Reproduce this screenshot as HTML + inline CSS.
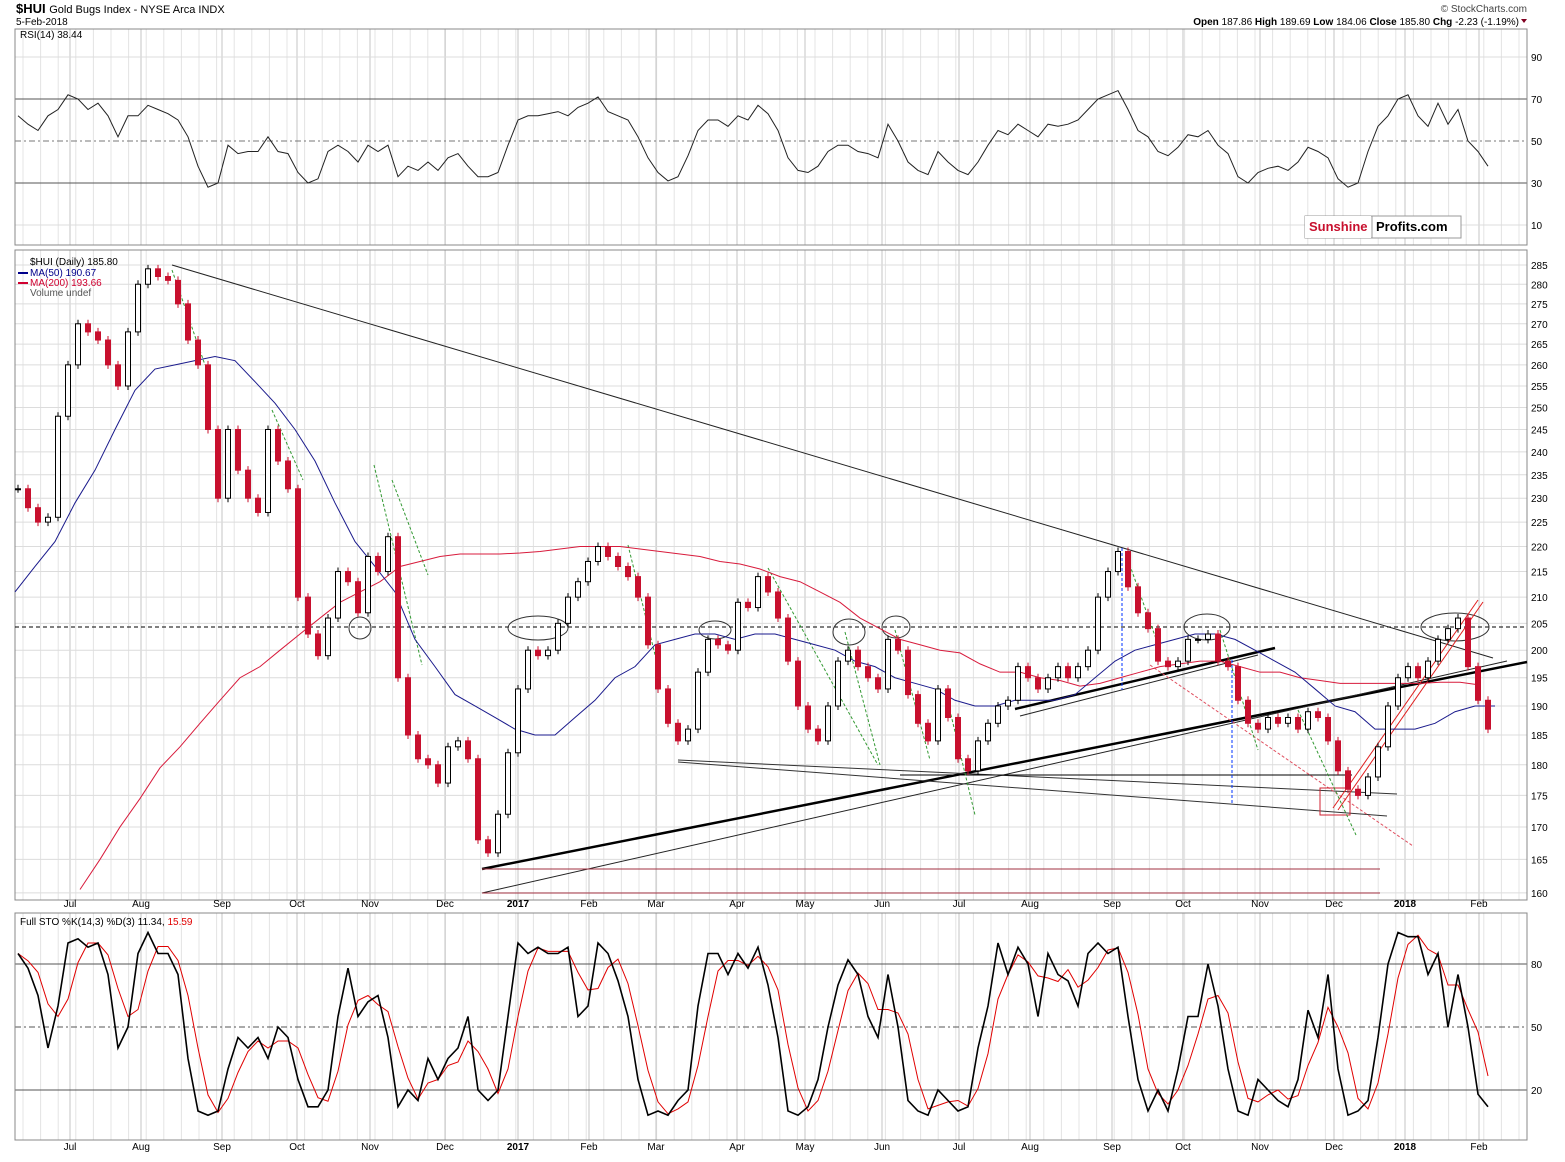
<!DOCTYPE html>
<html><head><meta charset="utf-8">
<style>
body{margin:0;background:#fff;font-family:"Liberation Sans",sans-serif;}
svg text{font-family:"Liberation Sans",sans-serif;}
</style></head>
<body>
<svg id="chart" width="1565" height="1157" viewBox="0 0 1565 1157" xmlns="http://www.w3.org/2000/svg">
<rect width="1565" height="1157" fill="#fff"/>
<g id="grid"></g>
<text x="16" y="13" font-size="13" font-weight="bold">$HUI <tspan font-size="11" font-weight="normal">Gold Bugs Index - NYSE Arca INDX</tspan></text>
<text x="16" y="25" font-size="10">5-Feb-2018</text>
<text x="1527" y="12" font-size="10" text-anchor="end" fill="#444">© StockCharts.com</text>
<text x="1519" y="25" font-size="10" text-anchor="end"><tspan font-weight="bold">Open</tspan> 187.86 <tspan font-weight="bold">High</tspan> 189.69 <tspan font-weight="bold">Low</tspan> 184.06 <tspan font-weight="bold">Close</tspan> 185.80 <tspan font-weight="bold">Chg</tspan> -2.23 (-1.19%)</text>
<path d="M1521,19 l6,0 l-3,4z" fill="#800020"/>
<text x="20" y="38" font-size="10">RSI(14) 38.44</text>
<g font-size="10">
<text x="30" y="265">$HUI (Daily) 185.80</text>
<text x="30" y="276" fill="#00008b">MA(50) 190.67</text>
<text x="30" y="286" fill="#d00030">MA(200) 193.66</text>
<text x="30" y="296" fill="#555">Volume undef</text>
<line x1="18" y1="273" x2="28" y2="273" stroke="#00008b" stroke-width="2"/>
<line x1="18" y1="283" x2="28" y2="283" stroke="#d00030" stroke-width="2"/>
</g>
<text x="20" y="925" font-size="10">Full STO %K(14,3) %D(3) 11.34, <tspan fill="#e00000">15.59</tspan></text>
<g>
<rect x="1305" y="216" width="156" height="22" fill="#fff" stroke="#999"/>
<rect x="1305" y="216" width="66" height="22" fill="#fff"/>
<line x1="1372" y1="216" x2="1372" y2="238" stroke="#999"/>
<text x="1309" y="231" font-size="13" font-weight="bold" fill="#c8102e">Sunshine</text>
<text x="1376" y="231" font-size="13" font-weight="bold" fill="#000">Profits.com</text>
</g>
<g id="annot" fill="none">
<line x1="172" y1="265" x2="1493" y2="658" stroke="#222" stroke-width="1"/>
<line x1="15" y1="627" x2="1527" y2="627" stroke="#000" stroke-dasharray="4,3"/>
<line x1="482" y1="869" x2="1527" y2="662" stroke="#000" stroke-width="2.5"/>
<line x1="482" y1="893" x2="1507" y2="661" stroke="#222" stroke-width="1"/>
<line x1="1015" y1="709" x2="1275" y2="648" stroke="#000" stroke-width="2.5"/>
<line x1="1020" y1="716" x2="1258" y2="655" stroke="#222"/>
<line x1="678" y1="760" x2="1397" y2="794" stroke="#333"/>
<line x1="678" y1="762" x2="1387" y2="816" stroke="#333"/>
<line x1="900" y1="775" x2="1352" y2="775" stroke="#000"/>
<line x1="482" y1="869" x2="1380" y2="869" stroke="#a03040"/>
<line x1="482" y1="893" x2="1380" y2="893" stroke="#a03040"/>
<ellipse cx="538" cy="628" rx="30" ry="12" stroke="#333"/>
<ellipse cx="715" cy="630" rx="16" ry="9" stroke="#333"/>
<ellipse cx="849" cy="632" rx="16" ry="13" stroke="#333"/>
<ellipse cx="896" cy="627" rx="14" ry="11" stroke="#333"/>
<ellipse cx="1207" cy="627" rx="23" ry="13" stroke="#333"/>
<ellipse cx="1455" cy="627" rx="34" ry="14" stroke="#333"/>
<ellipse cx="360" cy="628" rx="11" ry="11" stroke="#333"/>
<line x1="1122" y1="548" x2="1122" y2="690" stroke="#0033ff" stroke-dasharray="3,2"/>
<line x1="1232" y1="660" x2="1232" y2="804" stroke="#0033ff" stroke-dasharray="3,2"/>
<line x1="1150" y1="665" x2="1413" y2="846" stroke="#e05060" stroke-dasharray="3,2"/>
<rect x="1320" y="788" width="30" height="27" stroke="#d02030"/>
<line x1="1333" y1="808" x2="1478" y2="600" stroke="#e02020"/>
<line x1="1338" y1="810" x2="1483" y2="602" stroke="#e02020"/>
<g stroke="#339933" stroke-dasharray="3,2">
<line x1="172" y1="270" x2="205" y2="365"/><line x1="272" y1="410" x2="303" y2="480"/>
<line x1="374" y1="465" x2="422" y2="665"/><line x1="392" y1="480" x2="428" y2="575"/>
<line x1="628" y1="545" x2="660" y2="675"/><line x1="768" y1="568" x2="878" y2="765"/>
<line x1="845" y1="632" x2="880" y2="765"/><line x1="895" y1="630" x2="930" y2="760"/>
<line x1="945" y1="690" x2="975" y2="815"/><line x1="1128" y1="560" x2="1160" y2="650"/>
<line x1="1220" y1="630" x2="1258" y2="750"/><line x1="1298" y1="710" x2="1356" y2="835"/>
</g>
</g>
<g id="plots"></g>
</svg>
<script>
// ---- data ----
const priceClose=[232,228,225,226,248,260,270,268,266,260,255,268,280,284,282,281,275,266,260,245,230,245,236,230,227,245,238,232,210,203,199,206,215,213,207,218,215,222,195,185,181,180,177,183,184,181,168,166,172,182,193,200,199,200,205,210,213,217,220,218,216,214,210,201,193,187,184,186,196,202,201,200,209,208,214,211,206,198,190,186,184,190,198,200,197,195,193,202,200,192,187,184,193,188,181,179,184,187,190,191,197,195,193,195,197,195,197,200,210,215,219,212,207,204,198,197,198,202,202,203,198,197,191,187,186,188,187,188,186,189,188,184,179,176,175,178,183,190,195,197,195,198,202,204,206,197,191,186];
const ma50=[211,216,221,229,236,245,254,259,260,261,262,261,256,251,245,238,229,221,216,211,202,197,192,190,188,186,185,185,188,191,195,197,201,202,203,203,202,203,203,202,201,200,198,197,195,194,193,191,190,190,191,191,191,192,195,198,200,201,202,203,203,202,200,198,196,193,190,189,186,186,186,187,189,190,190];
const ma200=[160.5,165,170,174.5,179.5,183,187,191,195,197,200,203,206,209,211,213,216,217,218,218.5,218.5,218.5,218.7,219,219.5,220,220,220,219.5,219,218.5,218,217,216.5,215.5,214,213,211,209,206,204,202,201,200,199.5,197.5,196,196,195,194.5,193.5,194,195,196,197,197.5,198,198,197,196,196,195,194.5,194,194,194,194,194,194.2,194.2,193.7];
const rsiVals=[62,58,55,62,65,72,70,65,68,62,52,62,62,67,65,63,60,52,38,28,30,48,44,45,45,52,45,44,35,30,32,45,48,45,40,48,45,48,33,38,36,40,36,42,44,38,33,33,35,48,60,62,62,63,64,62,66,68,71,64,62,60,52,42,35,31,33,43,55,60,60,57,62,60,67,63,55,42,36,35,38,45,48,48,45,44,42,58,50,40,36,34,45,40,36,34,40,48,55,53,58,55,52,58,57,58,60,65,70,72,74,65,55,52,45,43,47,53,52,55,48,44,33,30,35,37,38,36,40,47,45,42,32,28,30,45,57,62,70,72,62,57,68,58,65,50,45,38];
const stoK=[85,78,65,40,60,90,92,88,90,75,40,50,85,95,85,85,75,35,10,8,10,30,45,40,45,35,50,45,25,12,12,20,55,78,55,62,65,45,12,20,15,35,25,35,40,55,20,15,20,55,90,85,88,85,85,88,55,60,90,85,72,55,25,8,10,8,15,20,60,85,85,75,85,78,88,70,45,10,8,12,25,50,70,82,75,55,45,75,50,15,10,8,20,15,10,12,40,60,90,75,88,80,55,85,75,72,60,85,90,85,88,55,25,10,20,10,30,55,55,80,60,30,10,8,25,20,15,12,25,58,45,75,30,8,10,15,45,80,95,93,93,75,85,50,75,50,18,12];
const priceTicks=[285,280,275,270,265,260,255,250,245,240,235,230,225,220,215,210,205,200,195,190,185,180,175,170,165,160];
const rsiTicks=[90,70,50,30,10];
const stoTicks=[80,50,20];
const monthLabels=["Jul","Aug","Sep","Oct","Nov","Dec","2017","Feb","Mar","Apr","May","Jun","Jul","Aug","Sep","Oct","Nov","Dec","2018","Feb"];
const monthPos=[70,141,222,297,370,445,518,589,656,737,805,882,959,1030,1112,1183,1260,1334,1405,1479];

// ---- scales ----
const L=15,R=1527;
const xDay=i=>18+10*i;
const xMA50=i=>15+20*i;
const xMA200=i=>80+20*i;
const yP=v=>265+1087.6*Math.log(285/v);
const yR=v=>141-(v-50)*2.1;
const yS=v=>1027-(v-50)*2.1;
const NS="http://www.w3.org/2000/svg";
const grid=document.getElementById('grid'), plots=document.getElementById('plots');
function mk(tag,attrs,parent){const e=document.createElementNS(NS,tag);for(const k in attrs)e.setAttribute(k,attrs[k]);parent.appendChild(e);return e;}

// panels
const panels=[[29,245],[250,900],[913,1140]];
panels.forEach(([t,b])=>{
  for(let x=L+8;x<R;x+=17.6){const l=mk('line',{x1:x,y1:t,x2:x,y2:b,stroke:'#e4e4e4'},grid);
    
    }
  monthPos.forEach(x=>{const l=mk('line',{x1:x,y1:t,x2:x,y2:b,stroke:'#c4c4c4'},grid);
    
    });
});
function hTicks(ticks,yf,t,b,lineStyle){
  ticks.forEach(v=>{const y=yf(v);
    const l=mk('line',{x1:L,y1:y,x2:R,y2:y,stroke:lineStyle?lineStyle[0]:'#dcdcdc','stroke-dasharray':lineStyle?lineStyle[1]:''},grid);
    
    
    const tx=mk('text',{x:R+4,y:y+4,'font-size':10},grid);tx.textContent=v;
    
    
  });
}
hTicks(priceTicks,yP);
rsiTicks.forEach(v=>{const y=yR(v);const st=(v==70||v==30)?'#555':(v==50?'#777':'#dcdcdc');
  const l=mk('line',{x1:L,y1:y,x2:R,y2:y,stroke:st,'stroke-dasharray':v==50?'6,3,2,3':''},grid);
  
  
  const tx=mk('text',{x:R+4,y:y+4,'font-size':10},grid);tx.textContent=v;
  
  });
stoTicks.forEach(v=>{const y=yS(v);
  const l=mk('line',{x1:L,y1:y,x2:R,y2:y,stroke:'#555','stroke-dasharray':v==50?'6,3,2,3':''},grid);
  
  
  const tx=mk('text',{x:R+4,y:y+4,'font-size':10},grid);tx.textContent=v;
  
  });
panels.forEach(([t,b])=>{const r=mk('rect',{x:L,y:t,width:R-L,height:b-t,fill:'none',stroke:'#888'},grid);
  
  });
[907,1150].forEach(y=>monthLabels.forEach((m,i)=>{
  const tx=mk('text',{x:monthPos[i],y:y,'font-size':10,'text-anchor':'middle','font-weight':(m.length==4?'bold':'normal')},grid);tx.textContent=m;
  
  }));

// MAs
function poly(arr,xf,yf,color,w,name){
  const p=mk('polyline',{points:arr.map((v,i)=>xf(i)+','+yf(v)).join(' '),fill:'none',stroke:color,'stroke-width':w},plots);
  
  }
poly(ma200,xMA200,yP,'#d81b3c',1,'ma200-line');
poly(ma50,xMA50,yP,'#1a1a8c',1,'ma50-line');
// candles
priceClose.forEach((c,i)=>{
  const prev=i?priceClose[i-1]:c; const up=c>=prev;
  const y1=yP(Math.max(c,prev)), y2=yP(Math.min(c,prev));
  const x=xDay(i);
  const w=mk('line',{x1:x,y1:y1-4,x2:x,y2:y2+4,stroke:up?'#000':'#c8102e'},plots);
  
  
  const b=mk('rect',{x:x-2.5,y:y1,width:5,height:Math.max(1,y2-y1),fill:up?'#fff':'#c8102e',stroke:up?'#000':'#c8102e'},plots);
  
  
});
// RSI
poly(rsiVals,xDay,yR,'#222',1,'rsi-line');
// STO
const stoD=stoK.map((v,i)=>{const s=stoK.slice(Math.max(0,i-2),i+1);return s.reduce((a,b)=>a+b,0)/s.length;});
poly(stoD,xDay,yS,'#e00000',1,'sto-d-line');
poly(stoK,xDay,yS,'#000',1.6,'sto-k-line');
</script>
</body></html>
